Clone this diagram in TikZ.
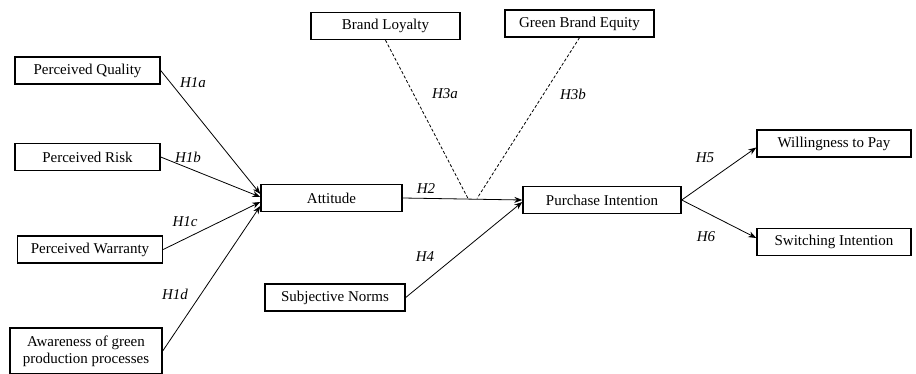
\documentclass[tikz,border=0pt]{standalone}
\usepackage{fontspec}
\setmainfont{Liberation Serif}
\usetikzlibrary{arrows.meta}

\begin{document}
\begin{tikzpicture}[x=1pt,y=-1pt,
  box/.style={draw,line width=1.4pt,minimum height=27pt,inner sep=2pt,font=\fontsize{15}{17}\selectfont,align=center},
  hyp/.style={font=\fontsize{15}{17}\selectfont\itshape},
  causal/.style={draw,line width=0.8pt,-{Stealth[length=8pt,width=6pt]}},
  modline/.style={draw,line width=0.8pt,dash pattern=on 3pt off 2pt}]
  \useasboundingbox (0,0) rectangle (916,374);
  \node[box,minimum width=145pt] (quality) at (87.5,70.5) {Perceived Quality};
  \node[box,minimum width=145pt] (risk) at (87.5,157) {Perceived Risk};
  \node[box,minimum width=145pt] (warranty) at (90,249.5) {Perceived Warranty};
  \node[box,minimum width=152pt,minimum height=46pt] (awareness) at (86,351) {Awareness of green\\production processes};
  \node[box,minimum width=141pt] (attitude) at (331.5,198) {Attitude};
  \node[box,minimum width=140pt] (norms) at (335,297.5) {Subjective Norms};
  \node[box,minimum width=149pt] (loyalty) at (385.5,26) {Brand Loyalty};
  \node[box,minimum width=149pt] (equity) at (579.5,23.5) {Green Brand Equity};
  \node[box,minimum width=158pt] (purchase) at (602,200) {Purchase Intention};
  \node[box,minimum width=154pt] (pay) at (834,143.5) {Willingness to Pay};
  \node[box,minimum width=154pt] (switching) at (834,242) {Switching Intention};
  \coordinate (modA) at (468,198.5);
  \coordinate (modB) at (477,198.5);
  \draw[causal] (quality.east) -- ([yshift=4pt]attitude.west);
  \draw[causal] (risk.east) -- ([yshift=1pt]attitude.west);
  \draw[causal] (warranty.east) -- ([yshift=-4pt]attitude.west);
  \draw[causal] (awareness.east) -- ([yshift=-8pt]attitude.west);
  \draw[causal] (attitude.east) -- (purchase.west);
  \draw[causal] (norms.east) -- ([yshift=-2pt]purchase.west);
  \draw[modline] (loyalty.south) -- (modA);
  \draw[modline] (equity.south) -- (modB);
  \draw[causal] (purchase.east) -- ([yshift=-4pt]pay.west);
  \draw[causal] (purchase.east) -- ([yshift=4pt]switching.west);
  \node[hyp] (h1a) at (193,83) {H1a};
  \node[hyp] (h1b) at (188,157) {H1b};
  \node[hyp] (h1c) at (185,222) {H1c};
  \node[hyp] (h1d) at (175,294) {H1d};
  \node[hyp] (h2) at (426,189) {H2};
  \node[hyp] (h3a) at (445,94) {H3a};
  \node[hyp] (h3b) at (573,94) {H3b};
  \node[hyp] (h4) at (425,257) {H4};
  \node[hyp] (h5) at (705,158) {H5};
  \node[hyp] (h6) at (706,237) {H6};
\end{tikzpicture}
\end{document}
